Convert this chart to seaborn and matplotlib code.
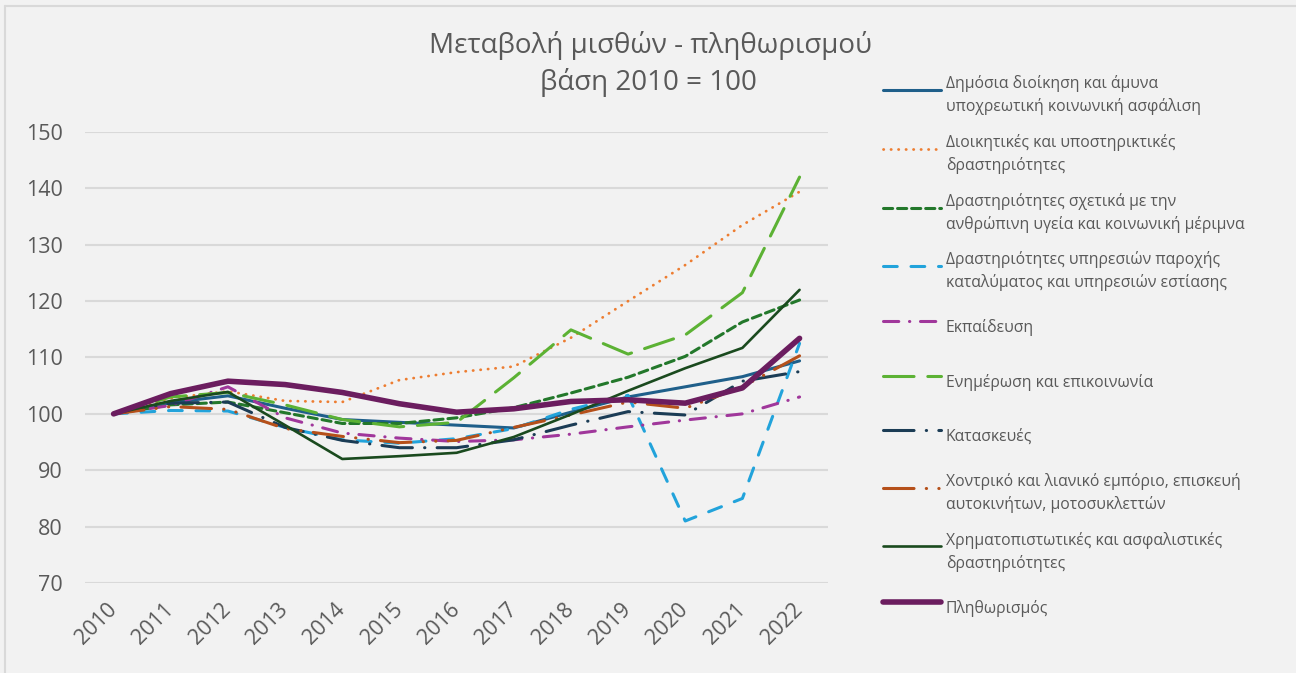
import numpy as np
import pandas as pd
import seaborn as sns
import matplotlib.pyplot as plt
from matplotlib.lines import Line2D

# dedomena (vasi 2010 = 100)
eti = list(range(2010, 2023))

dimosia = [100, 102.0, 103.2, 101.0, 99.0, 98.5, 98.0, 97.5, 100.3, 103.0, 104.8, 106.6, 109.4]
dioikitikes = [100, 102.8, 104.0, 102.3, 102.1, 106.0, 107.4, 108.4, 113.5, 120.0, 126.4, 133.5, 139.4]
ygeia = [100, 101.6, 102.1, 100.2, 98.3, 98.3, 99.3, 101.1, 103.7, 106.5, 110.2, 116.3, 120.2]
katalymata = [100, 100.6, 100.5, 97.6, 95.4, 94.8, 95.6, 97.4, 100.8, 103.3, 81.0, 85.0, 112.5]
ekpaideysi = [100, 101.5, 104.8, 99.3, 96.6, 95.7, 95.1, 95.4, 96.4, 97.7, 98.9, 100.0, 103.0]
enimerosi = [100, 103.0, 103.8, 101.6, 99.0, 97.7, 98.5, 106.4, 114.9, 110.6, 114.0, 121.5, 142.0]
kataskeyes = [100, 101.9, 102.1, 97.6, 95.3, 94.0, 94.0, 95.4, 98.0, 100.4, 99.8, 105.8, 107.5]
emporio = [100, 101.3, 100.8, 97.4, 96.0, 94.9, 95.3, 97.6, 99.8, 102.1, 101.0, 104.8, 110.3]
xrimatopistotikes = [100, 102.3, 103.9, 98.0, 92.0, 92.5, 93.1, 95.9, 99.9, 104.1, 108.1, 111.7, 122.0]
plithorismos = [100, 103.6, 105.8, 105.2, 103.8, 101.8, 100.3, 100.9, 102.2, 102.5, 101.9, 104.6, 113.4]

etiketes = ['Δημόσια διοίκηση και άμυνα\nυποχρεωτική κοινωνική ασφάλιση',
            'Διοικητικές και υποστηρικτικές\nδραστηριότητες',
            'Δραστηριότητες σχετικά με την\nανθρώπινη υγεία και κοινωνική μέριμνα',
            'Δραστηριότητες υπηρεσιών παροχής\nκαταλύματος και υπηρεσιών εστίασης',
            'Εκπαίδευση',
            'Ενημέρωση και επικοινωνία',
            'Κατασκευές',
            'Χοντρικό και λιανικό εμπόριο, επισκευή\nαυτοκινήτων, μοτοσυκλεττών',
            'Χρηματοπιστωτικές και ασφαλιστικές\nδραστηριότητες',
            'Πληθωρισμός']

seires = [dimosia, dioikitikes, ygeia, katalymata, ekpaideysi,
          enimerosi, kataskeyes, emporio, xrimatopistotikes, plithorismos]

xromata = ['#1f5f8a', '#ed7d31', '#23782b', '#22a3db', '#a0379b',
           '#5cb234', '#1b3c55', '#b5501a', '#1a4a1e', '#6b1d5f']
paxos = [2.2, 2.0, 2.2, 2.2, 2.2, 2.2, 2.2, 2.2, 1.9, 4.0]
grammes = ['-', (0, (0.1, 2.6)), (0, (3, 1.6)), (0, (4.5, 4.5)),
           (0, (5, 3.5, 0.1, 3.5)), (0, (10, 4.5)), (0, (10, 4, 0.1, 4)),
           (0, (10, 4, 0.1, 4, 0.1, 4)), '-', '-']

sns.set_theme(style='white')
plt.rcParams['font.family'] = ['Open Sans', 'DejaVu Sans']
gkri = '#595959'

fig = plt.figure(figsize=(12.96, 6.73), dpi=100, facecolor='#f2f2f2')
ax = fig.add_axes([0.0656, 0.1337, 0.5734, 0.6702])
ax.set_facecolor('#f2f2f2')

for i in range(len(seires)):
    df = pd.DataFrame({'etos': eti, 'timi': seires[i]})
    sns.lineplot(data=df, x='etos', y='timi', ax=ax, color=xromata[i],
                 linewidth=paxos[i], linestyle=grammes[i],
                 dash_capstyle='round', solid_capstyle='round',
                 label=etiketes[i])

ax.set_xlim(2009.5, 2022.5)
ax.set_ylim(70, 150)
ax.set_yticks(np.arange(70, 151, 10))
ax.set_xticks(eti)
ax.set_xticklabels([str(e) for e in eti], rotation=45, ha='right',
                   va='center', rotation_mode='anchor')
ax.tick_params(axis='x', labelsize=15.5, colors=gkri, length=0, pad=17)
ax.tick_params(axis='y', labelsize=15.5, colors=gkri, length=0, pad=16)
ax.set_xlabel('')
ax.set_ylabel('')
ax.grid(axis='y', color='#d9d9d9', linewidth=1.5)
ax.grid(axis='x', visible=False)
for s in ax.spines.values():
    s.set_visible(False)
ax.set_axisbelow(True)

fig.text(0.502, 0.932, 'Μεταβολή μισθών - πληθωρισμού', ha='center',
         va='center', fontsize=20, color=gkri)
fig.text(0.5, 0.877, 'βάση 2010 = 100', ha='center', va='center',
         fontsize=20, color=gkri)

# legenda
xeria = [Line2D([0], [0], color=xromata[i], linewidth=paxos[i],
                linestyle=grammes[i], dash_capstyle='round',
                solid_capstyle='round') for i in range(len(seires))]
ax.get_legend().remove()
leg = fig.legend(xeria, etiketes, loc='upper left',
                 bbox_to_anchor=(0.681, 0.888), frameon=False,
                 fontsize=11.3, labelcolor=gkri, handlelength=3.7,
                 handleheight=3.1, handletextpad=0.33, labelspacing=1.2,
                 borderaxespad=0, borderpad=0)
for t in leg.get_texts():
    t.set_linespacing(1.45)

# plaisio
fig.add_artist(plt.Line2D([0.004, 0.004], [0.991, 0], color='#d9d9d9',
                          linewidth=1.5, transform=fig.transFigure))
fig.add_artist(plt.Line2D([0.004, 1], [0.991, 0.991], color='#d9d9d9',
                          linewidth=1.5, transform=fig.transFigure))

fig.savefig('out.png', dpi=100, facecolor=fig.get_facecolor())
